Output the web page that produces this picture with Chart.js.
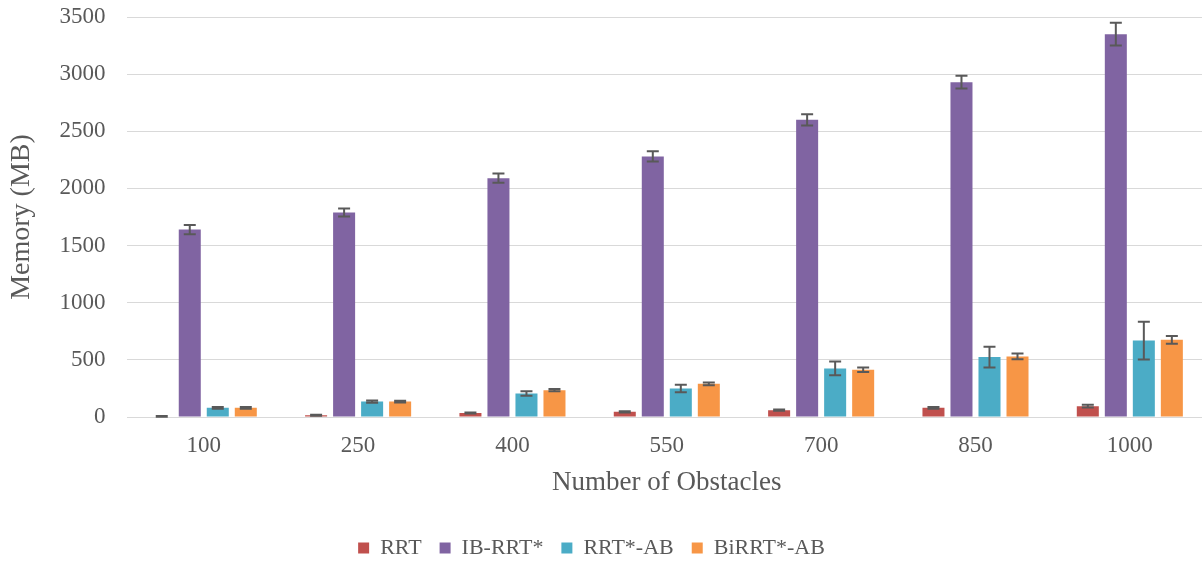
<!DOCTYPE html>
<html>
<head>
<meta charset="utf-8">
<script src="https://cdn.jsdelivr.net/npm/chart.js@4.4.0/dist/chart.umd.min.js"></script>
<style>
html, body { margin: 0; padding: 0; background: #fff; overflow: hidden; }
#wrap { width: 1207px; height: 563px; }
</style>
</head>
<body>
<div id="wrap"><canvas id="chart"></canvas></div>
<script>
// values
var obstacles = ["100", "250", "400", "550", "700", "850", "1000"];

var rrt = [5, 15, 35, 45, 60, 80, 95];
var rrtErr = [3, 4, 5, 6, 6, 7, 12];

var ibrrt = [1640, 1790, 2090, 2280, 2600, 2930, 3350];
var ibrrtErr = [40, 35, 40, 45, 50, 55, 100];

var rrtAB = [80, 135, 205, 250, 425, 524, 669];
var rrtABErr = [8, 10, 20, 33, 60, 90, 165];

var birrtAB = [80, 135, 235, 290, 413, 530, 675];
var birrtABErr = [8, 8, 10, 12, 20, 25, 33];

var yTicks = [0, 500, 1000, 1500, 2000, 2500, 3000, 3500];

var fontFam = "'Liberation Serif', 'Times New Roman', serif";
var textCol = "#595959";

// draws the error bars on top of each bar
var errorBars = {
	id: 'errorBars',
	afterDatasetsDraw: function(chart) {
		var ctx = chart.ctx;
		var y = chart.scales.y;
		ctx.save();
		ctx.strokeStyle = "#595959";
		ctx.lineWidth = 2;
		chart.data.datasets.forEach(function(ds, i) {
			var meta = chart.getDatasetMeta(i);
			if (meta.hidden) return;
			meta.data.forEach(function(bar, j) {
				var v = ds.data[j], e = ds.errors[j];
				var top = y.getPixelForValue(v + e);
				var bot = y.getPixelForValue(Math.max(0, v - e));
				var hw = 6;
				ctx.beginPath();
				ctx.moveTo(bar.x, top); ctx.lineTo(bar.x, bot);
				ctx.moveTo(bar.x - hw, top); ctx.lineTo(bar.x + hw, top);
				ctx.moveTo(bar.x - hw, bot); ctx.lineTo(bar.x + hw, bot);
				ctx.stroke();
			});
		});
		ctx.restore();
	}
};

// nudge the legend a little to the left, like the original
var legendShift = {
	id: 'legendShift',
	afterLayout: function(chart) {
		if (chart.legend) {
			chart.legend.left -= 12;
			chart.legend.right -= 12;
		}
	}
};

var ctx = document.getElementById("chart").getContext("2d");
var myChart = new Chart(ctx, {
	type: 'bar',
	data: {
		labels: obstacles,
		datasets: [
			{ label: "RRT", data: rrt, errors: rrtErr, backgroundColor: "#C0504D" },
			{ label: "IB-RRT*", data: ibrrt, errors: ibrrtErr, backgroundColor: "#8064A2" },
			{ label: "RRT*-AB", data: rrtAB, errors: rrtABErr, backgroundColor: "#4BACC6" },
			{ label: "BiRRT*-AB", data: birrtAB, errors: birrtABErr, backgroundColor: "#F79646" }
		]
	},
	options: {
		responsive: true,
		maintainAspectRatio: false,
		animation: false,
		categoryPercentage: 0.726,
		barPercentage: 0.786,
		layout: { padding: { top: 0, right: 0, left: 0, bottom: -6 } },
		plugins: {
			tooltip: { enabled: false },
			legend: {
				position: 'bottom',
				labels: {
					boxWidth: 11,
					boxHeight: 11,
					padding: 18,
					color: textCol,
					font: { family: fontFam, size: 22 }
				}
			}
		},
		scales: {
			x: {
				grid: { display: false },
				border: { display: false },
				ticks: {
					color: textCol,
					padding: 7,
					font: { family: fontFam, size: 23 }
				},
				title: {
					display: true,
					text: "Number of Obstacles",
					color: textCol,
					padding: { top: 0, bottom: 20 },
					font: { family: fontFam, size: 27 }
				}
			},
			y: {
				min: 0,
				max: 3500,
				afterBuildTicks: function(scale) {
					scale.ticks = yTicks.map(function(v) { return { value: v }; });
				},
				afterFit: function(scale) {
					scale.paddingTop = 17;
					scale.paddingBottom = 0;
				},
				grid: { color: "#D9D9D9", drawTicks: false },
				border: { display: false },
				ticks: {
					color: textCol,
					padding: 21,
					callback: function(v) { return String(v); },
					font: { family: fontFam, size: 23 }
				},
				title: {
					display: true,
					text: "Memory (MB)",
					color: textCol,
					padding: { top: 5, bottom: 0 },
					font: { family: fontFam, size: 28 }
				}
			}
		}
	},
	plugins: [errorBars, legendShift]
});
</script>
</body>
</html>
